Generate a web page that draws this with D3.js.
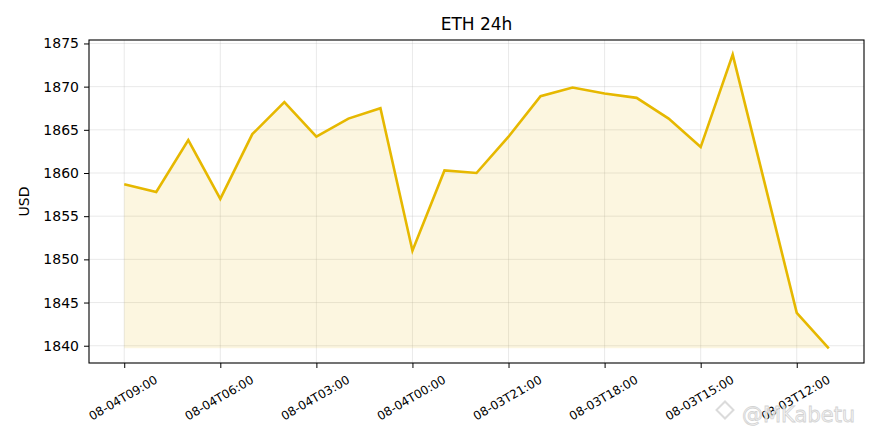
<!DOCTYPE html>
<html>
<head>
<meta charset="utf-8">
<script src="https://cdn.jsdelivr.net/npm/d3@7"></script>
<style>
  body { margin: 0; background: #fff; }
  svg text { font-family: "DejaVu Sans", sans-serif; }
</style>
</head>
<body>
<div id="chart"></div>
<script>
// hourly ETH price, newest first (08-04 09:00 back to 08-03 11:00)
const hours = [
  "08-04T09:00", "08-04T08:00", "08-04T07:00", "08-04T06:00", "08-04T05:00", "08-04T04:00",
  "08-04T03:00", "08-04T02:00", "08-04T01:00", "08-04T00:00", "08-03T23:00", "08-03T22:00",
  "08-03T21:00", "08-03T20:00", "08-03T19:00", "08-03T18:00", "08-03T17:00", "08-03T16:00",
  "08-03T15:00", "08-03T14:00", "08-03T13:00", "08-03T12:00", "08-03T11:00"
];
const prices = [
  1858.7, 1857.8, 1863.8, 1857.0, 1864.5, 1868.2,
  1864.2, 1866.3, 1867.5, 1851.0, 1860.3, 1860.0,
  1864.2, 1868.9, 1869.9, 1869.2, 1868.7, 1866.3,
  1863.0, 1873.7, 1858.8, 1843.8, 1839.7
];
const tickLabels = ["08-04T09:00", "08-04T06:00", "08-04T03:00", "08-04T00:00",
                    "08-03T21:00", "08-03T18:00", "08-03T15:00", "08-03T12:00"];
const yTicks = [1840, 1845, 1850, 1855, 1860, 1865, 1870, 1875];

const data = hours.map((h, i) => ({hour: h, i: i, price: prices[i]}));

const W = 880, H = 440;
const margin = {top: 40, right: 16, bottom: 77, left: 89};
const innerW = W - margin.left - margin.right,
      innerH = H - margin.top - margin.bottom;

const svg = d3.select("#chart").append("svg")
    .attr("width", W).attr("height", H);

const g = svg.append("g")
    .attr("transform", `translate(${margin.left},${margin.top})`);

// matplotlib style 5% padding around data
const n = data.length - 1;
const x = d3.scaleLinear().domain([-0.05 * n, n * 1.05]).range([0, innerW]);
const yMin = d3.min(prices), yMax = d3.max(prices), pad = (yMax - yMin) * 0.05;
const y = d3.scaleLinear().domain([yMin - pad, yMax + pad]).range([innerH, 0]);

const tickIdx = tickLabels.map(t => hours.indexOf(t));

// grid
g.append("g").selectAll("line").data(yTicks).join("line")
    .attr("x1", 0).attr("x2", innerW)
    .attr("y1", d => y(d)).attr("y2", d => y(d))
    .attr("stroke", "#b0b0b0").attr("stroke-opacity", 0.35).attr("stroke-width", 0.8);
g.append("g").selectAll("line").data(tickIdx).join("line")
    .attr("y1", 0).attr("y2", innerH)
    .attr("x1", d => x(d)).attr("x2", d => x(d))
    .attr("stroke", "#b0b0b0").attr("stroke-opacity", 0.35).attr("stroke-width", 0.8);

// fill under the line down to the minimum
g.append("path")
    .datum(data)
    .attr("fill", "#e6b800").attr("fill-opacity", 0.12)
    .attr("d", d3.area()
        .x(d => x(d.i))
        .y0(y(yMin))
        .y1(d => y(d.price)));

g.append("path")
    .datum(data)
    .attr("fill", "none")
    .attr("stroke", "#e6b800")
    .attr("stroke-width", 2.6)
    .attr("stroke-linejoin", "miter")
    .attr("d", d3.line().x(d => x(d.i)).y(d => y(d.price)));

// frame
g.append("rect")
    .attr("width", innerW).attr("height", innerH)
    .attr("fill", "none").attr("stroke", "#000").attr("stroke-width", 1.1);

// y axis
const yAxis = d3.axisLeft(y).tickValues(yTicks).tickSize(5).tickPadding(5).tickFormat(d3.format("d"));
const yAxisG = g.append("g").call(yAxis);
yAxisG.select(".domain").remove();
yAxisG.selectAll("text").attr("font-size", 14).attr("fill", "#000")
    .style("font-family", "DejaVu Sans");
yAxisG.selectAll("line").attr("stroke", "#000").attr("stroke-width", 1);

// x axis
const xAxis = d3.axisBottom(x).tickValues(tickIdx).tickSize(5).tickFormat(() => "");
const xAxisG = g.append("g").attr("transform", `translate(0,${innerH})`).call(xAxis);
xAxisG.select(".domain").remove();
xAxisG.selectAll("line").attr("stroke", "#000").attr("stroke-width", 1);

g.append("g").selectAll("text").data(tickIdx).join("text")
    .attr("transform", d => `translate(${x(d) - 1},${innerH + 35}) rotate(-30)`)
    .attr("text-anchor", "middle")
    .attr("dominant-baseline", "central")
    .attr("font-size", 12)
    .attr("fill", "#000")
    .text(d => hours[d]);

// labels
svg.append("text")
    .attr("x", margin.left + innerW / 2).attr("y", 30)
    .attr("text-anchor", "middle").attr("font-size", 17)
    .text("ETH 24h");

svg.append("text")
    .attr("transform", `translate(29,${margin.top + innerH / 2}) rotate(-90)`)
    .attr("text-anchor", "middle").attr("font-size", 14)
    .text("USD");

// watermark
const wm = svg.append("g").attr("opacity", 0.9);
wm.append("rect")
    .attr("x", 719).attr("y", 404).attr("width", 12).attr("height", 12)
    .attr("transform", "rotate(45,725,410)")
    .attr("fill", "none").attr("stroke", "#d8d8d8").attr("stroke-width", 2);
wm.append("text")
    .attr("x", 742).attr("y", 422)
    .attr("font-size", 21)
    .attr("fill", "#f4f4f4").attr("stroke", "#cfcfcf").attr("stroke-width", 0.8)
    .text("@MKabetu");
</script>
</body>
</html>
